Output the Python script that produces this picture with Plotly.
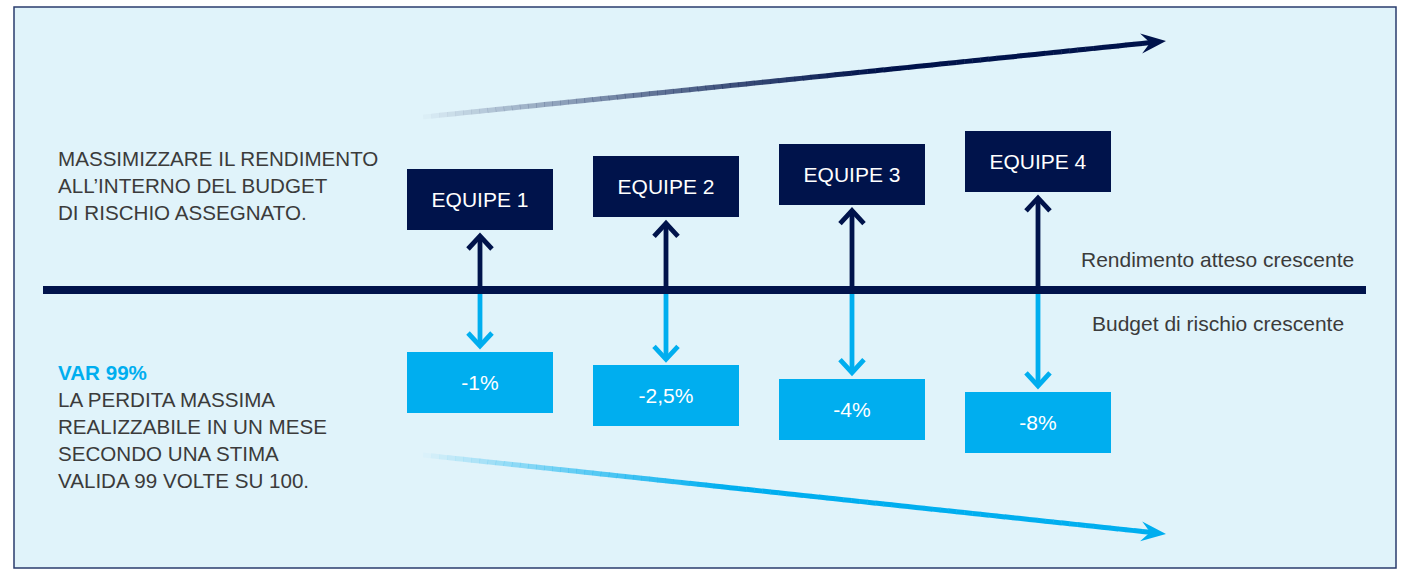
import plotly.graph_objects as go

# ---------------- data ----------------
teams = ["EQUIPE 1", "EQUIPE 2", "EQUIPE 3", "EQUIPE 4"]
var_labels = ["-1%", "-2,5%", "-4%", "-8%"]
team_index = [0, 1, 2, 3]
return_text = ["MASSIMIZZARE IL RENDIMENTO", "ALL\u2019INTERNO DEL BUDGET", "DI RISCHIO ASSEGNATO."]
var_title = "VAR 99%"
var_text = ["LA PERDITA MASSIMA", "REALIZZABILE IN UN MESE", "SECONDO UNA STIMA", "VALIDA 99 VOLTE SU 100."]
axis_labels = ["Rendimento atteso crescente", "Budget di rischio crescente"]

# ---------------- layout / style constants ----------------
W, H = 1401, 570
NAVY = (0, 19, 75)
CYAN = (0, 174, 239)
BG = "#e0f3fa"
TEXT = "#3b3b3b"
FONT = "Liberation Sans, Arial, Helvetica, sans-serif"


def rgb(c, a=1.0):
    return f"rgba({c[0]},{c[1]},{c[2]},{a:.3f})"


X0, DX = 480, 186            # first column centre, column spacing
BOX_W, BOX_H = 146, 61
TOP_Y0, TOP_DY = 169, -12.67
BOT_Y0, BOT_DY = 352, 13.33
LINE_Y, LINE_W = 290, 8
ARM_X, ARM_Y = 12, 13

centers = [X0 + DX * i for i in team_index]
top_tops = [TOP_Y0 + TOP_DY * i for i in team_index]
bot_tops = [BOT_Y0 + BOT_DY * i for i in team_index]

fig = go.Figure()

# boxes as bars (base = top edge on reversed y axis)
fig.add_trace(go.Bar(
    x=centers, y=[BOX_H] * len(teams), base=top_tops, width=BOX_W,
    marker=dict(color=rgb(NAVY), line=dict(width=0)),
    text=teams, textposition="inside", insidetextanchor="middle", textangle=0,
    insidetextfont=dict(color="white", size=21, family=FONT),
    hoverinfo="skip", showlegend=False,
))
fig.add_trace(go.Bar(
    x=centers, y=[BOX_H] * len(teams), base=bot_tops, width=BOX_W,
    marker=dict(color=rgb(CYAN), line=dict(width=0)),
    text=var_labels, textposition="inside", insidetextanchor="middle", textangle=0,
    insidetextfont=dict(color="white", size=21, family=FONT),
    hoverinfo="skip", showlegend=False,
))

# double arrows
ux, uy, dx_, dy_ = [], [], [], []
for c, tt, bt in zip(centers, top_tops, bot_tops):
    apex = tt + BOX_H + 6
    ux += [c, c, None, c - ARM_X, c, c + ARM_X, None]
    uy += [LINE_Y, apex + 1, None, apex + ARM_Y, apex, apex + ARM_Y, None]
    apex2 = bt - 6
    dx_ += [c, c, None, c - ARM_X, c, c + ARM_X, None]
    dy_ += [LINE_Y + LINE_W / 2, apex2 - 1, None, apex2 - ARM_Y, apex2, apex2 - ARM_Y, None]
fig.add_trace(go.Scatter(x=ux, y=uy, mode="lines", line=dict(color=rgb(NAVY), width=4.8),
                         hoverinfo="skip", showlegend=False))
fig.add_trace(go.Scatter(x=dx_, y=dy_, mode="lines", line=dict(color=rgb(CYAN), width=4.8),
                         hoverinfo="skip", showlegend=False))

shapes = []
# panel
shapes.append(dict(type="rect", x0=14, y0=7, x1=1396, y1=568, xref="x", yref="y",
                   fillcolor=BG, line=dict(color="#2a3d6e", width=1.5), layer="below"))
# main line
shapes.append(dict(type="line", x0=43, x1=1366, y0=LINE_Y, y1=LINE_Y, xref="x", yref="y",
                   line=dict(color=rgb(NAVY), width=LINE_W), layer="above"))


def grad_arrow(p0, tip, col, full_at, n=90, width=5, hl=25, hw=10, notch=16):
    ex, ey = tip[0] - p0[0], tip[1] - p0[1]
    L = (ex ** 2 + ey ** 2) ** 0.5
    ux_, uy_ = ex / L, ey / L
    nx_, ny_ = -uy_, ux_
    end = (tip[0] - ux_ * notch, tip[1] - uy_ * notch)
    for k in range(n):
        t0, t1 = k / n, (k + 1) / n
        tm = (t0 + t1) / 2
        a = min(1.0, tm / full_at) ** 0.85
        shapes.append(dict(
            type="line", xref="x", yref="y",
            x0=p0[0] + (end[0] - p0[0]) * t0, y0=p0[1] + (end[1] - p0[1]) * t0,
            x1=p0[0] + (end[0] - p0[0]) * t1 + ux_ * 0.4, y1=p0[1] + (end[1] - p0[1]) * t1 + uy_ * 0.4,
            line=dict(color=rgb(col, a), width=width), layer="below"))
    b1 = (tip[0] - ux_ * hl + nx_ * hw, tip[1] - uy_ * hl + ny_ * hw)
    b2 = (tip[0] - ux_ * hl - nx_ * hw, tip[1] - uy_ * hl - ny_ * hw)
    nt = (tip[0] - ux_ * notch, tip[1] - uy_ * notch)
    path = f"M {tip[0]},{tip[1]} L {b1[0]},{b1[1]} L {nt[0]},{nt[1]} L {b2[0]},{b2[1]} Z"
    shapes.append(dict(type="path", path=path, xref="x", yref="y",
                       fillcolor=rgb(col), line=dict(width=0), layer="below"))


grad_arrow((423, 117), (1166, 41), NAVY, 0.62)
grad_arrow((423, 455), (1166, 534), CYAN, 0.42)

annotations = []
for txt, yc in zip(return_text, [158.3, 185.0, 212.0]):
    annotations.append(dict(x=56, y=yc, text=txt, xanchor="left", yanchor="middle",
                            font=dict(family=FONT, size=20.6, color=TEXT)))
annotations.append(dict(x=56, y=372.5, text=f"<b>{var_title}</b>", xanchor="left", yanchor="middle",
                        font=dict(family=FONT, size=20.6, color=rgb(CYAN))))
for txt, yc in zip(var_text, [399.8, 426.8, 453.5, 480.3]):
    annotations.append(dict(x=56, y=yc, text=txt, xanchor="left", yanchor="middle",
                            font=dict(family=FONT, size=20.6, color=TEXT)))
for txt, yc in zip(axis_labels, [259.5, 323.0]):
    annotations.append(dict(x=1217.5, y=yc, text=txt, xanchor="center", yanchor="middle",
                            font=dict(family=FONT, size=21, color=TEXT)))
for a in annotations:
    a.update(xref="x", yref="y", showarrow=False)

fig.update_layout(
    width=W, height=H, margin=dict(l=0, r=0, t=0, b=0, pad=0),
    paper_bgcolor="white", plot_bgcolor="white",
    barmode="overlay", bargap=0, showlegend=False, hovermode=False,
    xaxis=dict(range=[0, W], visible=False, fixedrange=True),
    yaxis=dict(range=[H, 0], visible=False, fixedrange=True),
    shapes=shapes, annotations=annotations,
    font=dict(family=FONT),
)

fig.write_html("out.html", config={"displayModeBar": False, "staticPlot": True},
               post_script="document.body.style.margin='0';document.body.style.overflow='hidden';")
